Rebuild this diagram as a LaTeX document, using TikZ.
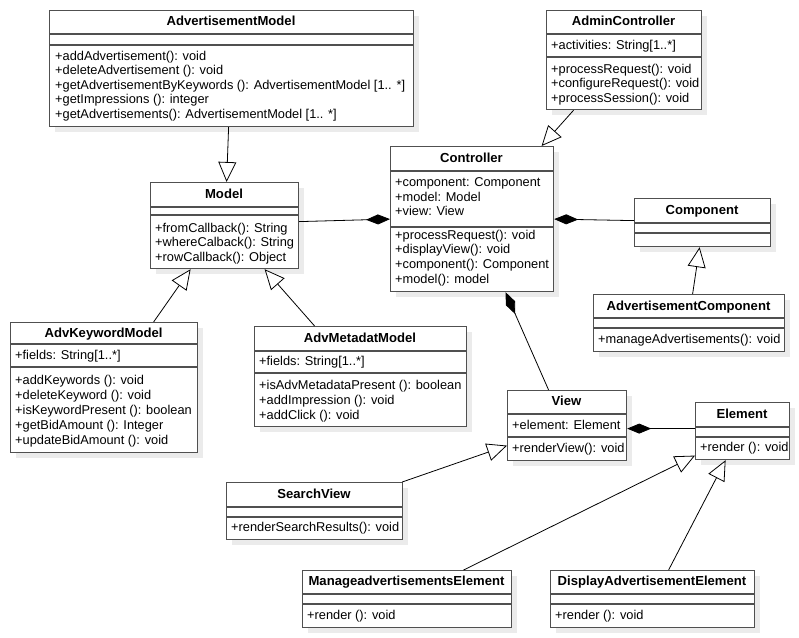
\documentclass[tikz,border=0pt]{standalone}
\usepackage{fontspec}
\setmainfont{Liberation Sans}
\usetikzlibrary{arrows.meta}
\definecolor{boxline}{HTML}{505050}
\definecolor{shadowc}{HTML}{EBEBEB}
\tikzset{
  clsbox/.style={draw=boxline, line width=1.2pt, fill=white, inner sep=0pt, rectangle},
  sepline/.style={draw=boxline, line width=1.2pt},
  ttl/.style={font=\fontsize{13.1}{15}\selectfont\bfseries, inner sep=0pt, text height=9pt, text depth=2.5pt},
  txt/.style={font=\fontsize{12.8}{15}\selectfont, inner sep=0pt, anchor=west, text height=9pt, text depth=2.5pt},
  gen/.style={draw=black, line width=0.8pt, -{Triangle[open, fill=white, length=20pt, width=18pt, line width=0.8pt]}},
  comp/.style={draw=black, line width=0.8pt, {Diamond[length=24pt, width=10pt]}-}
}
\newcommand{\umlbox}[7]{%
  \fill[shadowc] (#2+6,#3+6) rectangle (#4+6,#5+6);
  \node[clsbox, minimum width=#4-#2, minimum height=#5-#3, anchor=north west] (#1) at (#2,#3) {};
  \draw[sepline] (#2,#6) -- (#4,#6);
  \draw[sepline] (#2,#7) -- (#4,#7);
}
\begin{document}
\begin{tikzpicture}[x=1pt, y=-1pt]
\fill[white] (0,0) rectangle (799,637);
\useasboundingbox (0,0) rectangle (799,637);

% AdvertisementModel
\umlbox{am}{49}{10}{413}{126}{34}{45}
\node[ttl] (amT) at (231,22) {AdvertisementModel};
\node[txt] (am1) at (55,57) {+addAdvertisement(): void};
\node[txt] (am2) at (55,71) {+deleteAdvertisement (): void};
\node[txt] (am3) at (55,86) {+getAdvertisementByKeywords (): AdvertisementModel [1.. *]};
\node[txt] (am4) at (55,100) {+getImpressions (): integer};
\node[txt] (am5) at (55,115) {+getAdvertisements(): AdvertisementModel [1.. *]};

% AdminController
\umlbox{admin}{546}{10}{701}{109}{34}{57}
\node[ttl] (adminT) at (623.5,22) {AdminController};
\node[txt] (ad1) at (551,46) {+activities: String[1..*]};
\node[txt] (ad2) at (551,70) {+processRequest(): void};
\node[txt] (ad3) at (551,84) {+configureRequest(): void};
\node[txt] (ad4) at (551,99) {+processSession(): void};

% Controller
\umlbox{ctrl}{390}{146}{553}{291}{171}{227}
\node[ttl] (ctrlT) at (471.5,159) {Controller};
\node[txt] (c1) at (395,183) {+component: Component};
\node[txt] (c2) at (395,198) {+model: Model};
\node[txt] (c3) at (395,212) {+view: View};
\node[txt] (c4) at (395,236) {+processRequest(): void};
\node[txt] (c5) at (395,250) {+displayView(): void};
\node[txt] (c6) at (395,265) {+component(): Component};
\node[txt] (c7) at (395,280) {+model(): model};

% Component
\umlbox{compo}{634}{198}{770}{246}{223}{233}
\node[ttl] (compoT) at (702,211) {Component};

% AdvertisementComponent
\umlbox{advc}{593}{294}{784}{351}{318}{328}
\node[ttl] (advcT) at (688.5,307) {AdvertisementComponent};
\node[txt] (advc1) at (598,340) {+manageAdvertisements(): void};

% Model
\umlbox{model}{150}{182}{298}{268}{207}{215}
\node[ttl] (modelT) at (224,195) {Model};
\node[txt] (m1) at (155,229) {+fromCallback(): String};
\node[txt] (m2) at (155,243) {+whereCalback(): String};
\node[txt] (m3) at (155,258) {+rowCallback(): Object};

% AdvKeywordModel
\umlbox{kw}{10}{322}{197}{452}{344}{367}
\node[ttl] (kwT) at (103.5,334) {AdvKeywordModel};
\node[txt] (k1) at (15,356) {+fields: String[1..*]};
\node[txt] (k2) at (15,381) {+addKeywords (): void};
\node[txt] (k3) at (15,396) {+deleteKeyword (): void};
\node[txt] (k4) at (15,411) {+isKeywordPresent (): boolean};
\node[txt] (k5) at (15,426) {+getBidAmount (): Integer};
\node[txt] (k6) at (15,441) {+updateBidAmount (): void};

% AdvMetadatModel
\umlbox{meta}{254}{326}{466}{426}{351}{373}
\node[ttl] (metaT) at (360,339) {AdvMetadatModel};
\node[txt] (me1) at (259,362) {+fields: String[1..*]};
\node[txt] (me2) at (259,386) {+isAdvMetadataPresent (): boolean};
\node[txt] (me3) at (259,401) {+addImpression (): void};
\node[txt] (me4) at (259,416) {+addClick (): void};

% View
\umlbox{view}{507}{390}{626}{460}{414}{437}
\node[ttl] (viewT) at (566.5,402) {View};
\node[txt] (v1) at (512,426) {+element: Element};
\node[txt] (v2) at (512,449) {+renderView(): void};

% Element
\umlbox{elem}{695}{402}{789}{459}{427}{437}
\node[ttl] (elemT) at (742,415) {Element};
\node[txt] (e1) at (700,448) {+render (): void};

% SearchView
\umlbox{sv}{226}{482}{402}{539}{507}{517}
\node[ttl] (svT) at (314,495) {SearchView};
\node[txt] (sv1) at (231,528) {+renderSearchResults(): void};

% ManageadvertisementsElement
\umlbox{mae}{302}{570}{511}{627}{594}{604}
\node[ttl] (maeT) at (406.5,582) {ManageadvertisementsElement};
\node[txt] (mae1) at (307,616) {+render (): void};

% DisplayAdvertisementElement
\umlbox{dae}{550}{570}{754}{627}{594}{604}
\node[ttl] (daeT) at (652,582) {DisplayAdvertisementElement};
\node[txt] (dae1) at (555,616) {+render (): void};

% Connectors
\draw[gen] ([xshift=-3pt]am.south) -- ([xshift=2pt]model.north);
\draw[gen] ([xshift=49.5pt]kw.north) -- ([xshift=-34pt]model.south);
\draw[gen] ([xshift=-46pt]meta.north) -- ([xshift=40pt]model.south);
\draw[comp] (ctrl.west) -- ([yshift=4pt]model.east);
\draw[gen] ([xshift=-50.5pt]admin.south) -- ([xshift=69.5pt]ctrl.north);
\draw[comp] (ctrl.east) -- ([yshift=2pt]compo.west);
\draw[gen] ([xshift=3.5pt]advc.north) -- ([xshift=-3pt]compo.south);
\draw[comp] ([xshift=33.5pt]ctrl.south) -- ([xshift=-18.5pt]view.north);
\draw[comp] ([yshift=-3pt]view.east) -- ([yshift=2.5pt]elem.west);
\draw[gen] ([xshift=-1pt]sv.north east) -- ([yshift=-20pt]view.west);
\draw[gen] ([xshift=56.5pt]mae.north) -- ([yshift=-24.5pt]elem.west);
\draw[gen] ([xshift=16pt]dae.north) -- ([xshift=-17pt]elem.south);
\end{tikzpicture}
\end{document}
